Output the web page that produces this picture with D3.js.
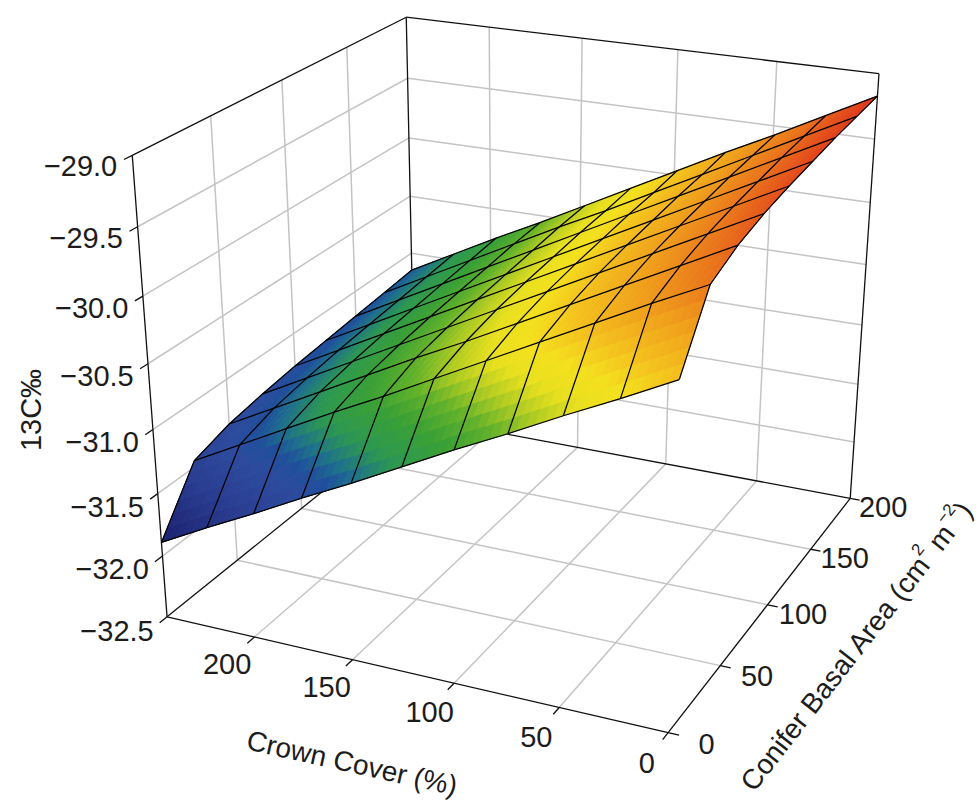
<!DOCTYPE html>
<html><head><meta charset="utf-8">
<script src="https://cdn.jsdelivr.net/npm/d3@7"></script>
<style>
body{margin:0;background:#fff}
text{font-family:"Liberation Sans",Arial,Helvetica,sans-serif;fill:#1c1c1c}
</style>
</head><body>
<svg id="chart" width="980" height="805"></svg>
<script>
// ---------------- DATA ----------------
const crownGrid = [0, 24.6, 49.2, 73.8, 98.4, 123, 147.6, 172.2, 196.8, 221.4, 246];
const basalGrid = [0, 25, 50, 75, 100, 125, 150, 175, 200];
// d13C[crown index][basal index]
const d13C = [
  [-29.93, -29.47, -29.37, -29.31, -29.27, -29.24, -29.21, -29.19, -29.17],
  [-30.13, -29.66, -29.57, -29.51, -29.47, -29.44, -29.41, -29.39, -29.37],
  [-30.32, -29.86, -29.77, -29.71, -29.67, -29.64, -29.61, -29.59, -29.57],
  [-30.52, -30.06, -29.97, -29.91, -29.87, -29.84, -29.81, -29.79, -29.76],
  [-30.71, -30.26, -30.17, -30.11, -30.07, -30.04, -30.01, -29.99, -29.96],
  [-30.91, -30.46, -30.37, -30.31, -30.27, -30.24, -30.21, -30.19, -30.16],
  [-31.11, -30.66, -30.56, -30.51, -30.47, -30.44, -30.41, -30.38, -30.36],
  [-31.30, -30.85, -30.76, -30.71, -30.67, -30.64, -30.61, -30.58, -30.56],
  [-31.50, -31.05, -30.96, -30.91, -30.87, -30.84, -30.81, -30.78, -30.75],
  [-31.69, -31.25, -31.16, -31.11, -31.07, -31.04, -31.01, -30.98, -30.95],
  [-31.89, -31.45, -31.36, -31.31, -31.27, -31.24, -31.21, -31.18, -31.15]
];
const crownTicks = [0, 50, 100, 150, 200];
const basalTicks = [0, 50, 100, 150, 200];
const zTicks = [-32.5, -32.0, -31.5, -31.0, -30.5, -30.0, -29.5, -29.0];
const crownDomain = [0, 246];
const basalDomain = [0, 200];
const zDomain = [-32.5, -29.0];

// colour map (value -> colour)
const colorValues = [-31.89, -31.55, -31.30, -31.18, -31.08, -30.92, -30.72, -30.55, -30.40, -30.25, -30.10, -29.93, -29.70, -29.45, -29.17];
const colorList = ["#1b1f6e", "#2a3d90", "#2d4b9e", "#1f4f9c", "#1e6f8e", "#2c9852", "#3aa035", "#62b22b", "#aecb23", "#e8e01f", "#f4e01e", "#f4c21e", "#f0a01c", "#ea741c", "#e0361c"];

// ---------------- SCALES ----------------
const uS = d3.scaleLinear().domain(crownDomain).range([0, 1]);
const vS = d3.scaleLinear().domain(basalDomain).range([0, 1]);
const wS = d3.scaleLinear().domain(zDomain).range([0, 1]);
const color = d3.scaleLinear().domain(colorValues).range(colorList).interpolate(d3.interpolateRgb).clamp(true);

// ---------------- CAMERA (perspective, fitted to the box layout) ----------------
// normalised box coordinates (u: crown, v: basal, w: z) -> screen anchor
const anchors = [
  [1,0,0,167,614],[0,0,0,665,732],[0,1,0,849,499],
  [1,0,1,132,155],[1,1,1,405,17],[0,1,1,878,75],
  [0,.25,0,720,667],[0,.5,0,770,606],[0,.75,0,812,551],
  [1,0,1/7,162,554],[1,0,2/7,157,493],[1,0,3/7,153,428],[1,0,4/7,147,365],[1,0,5/7,142,297],[1,0,6/7,137,227],
  [50/246,0,0,558,708],[100/246,0,0,455,685],[150/246,0,0,355,662],[200/246,0,0,258,636],
  [200/246,1,1,493,28],[150/246,1,1,586,39],[100/246,1,1,680,51],[50/246,1,1,777,63],
  [1,.25,1,210,116],[1,.5,1,282,80],[1,.75,1,347,47],
  [1,1,6/7,406,78],[1,1,5/7,408,137],[1,1,4/7,409,197],[1,1,3/7,410,255],
  [0,1,6/7,874,137],[0,1,5/7,869.5,200],[0,1,4/7,865,262],[0,1,3/7,861,322]
];
function fitCamera(pts){
  const K = 1000, n = 11;
  const A = Array.from({length:n}, () => new Array(n+1).fill(0));
  const add = (r, b) => { for (let i=0;i<n;i++){ for (let j=0;j<n;j++) A[i][j]+=r[i]*r[j]; A[i][n]+=r[i]*b; } };
  for (const [u,v,w,x0,y0] of pts){
    const x = x0/K, y = y0/K;
    add([u,v,w,1,0,0,0,0,-x*u,-x*v,-x*w], x);
    add([0,0,0,0,u,v,w,1,-y*u,-y*v,-y*w], y);
  }
  for (let c=0;c<n;c++){
    let p=c; for (let r=c+1;r<n;r++) if (Math.abs(A[r][c])>Math.abs(A[p][c])) p=r;
    [A[c],A[p]]=[A[p],A[c]];
    for (let r=0;r<n;r++){ if (r===c) continue; const f=A[r][c]/A[c][c]; for (let k=c;k<=n;k++) A[r][k]-=f*A[c][k]; }
  }
  const p = A.map((r,i)=>r[n]/r[i]);
  for (let i=0;i<8;i++) p[i]*=K;
  return p;
}
const P = fitCamera(anchors);
function proj(u,v,w){
  const h = P[8]*u + P[9]*v + P[10]*w + 1;
  return [(P[0]*u+P[1]*v+P[2]*w+P[3])/h, (P[4]*u+P[5]*v+P[6]*w+P[7])/h, h];
}
const project = (c,b,z) => proj(uS(c), vS(b), wS(z));

// ---------------- DRAW ----------------
const svg = d3.select("#chart");
const gGrid = svg.append("g").attr("stroke","#c4c4c4").attr("stroke-width",1.5).attr("fill","none");
const gBox = svg.append("g").attr("stroke","#111").attr("stroke-width",1.3).attr("fill","none");
const gSurf = svg.append("g");
const gMesh = svg.append("g").attr("stroke","#000").attr("stroke-width",1.25).attr("fill","none");
const gAxis = svg.append("g").attr("stroke","#111").attr("stroke-width",1.3).attr("fill","none");
const gText = svg.append("g");

const seg = (g, a, b) => g.append("line").attr("x1",a[0]).attr("y1",a[1]).attr("x2",b[0]).attr("y2",b[1]);

// wall & floor grid lines
const zInner = zTicks.slice(1, -1);
const crownInner = crownTicks.filter(c => c > 0);
const basalInner = basalTicks.filter(b => b > 0 && b < 200);
// floor
crownInner.forEach(c => seg(gGrid, proj(uS(c),0,0), proj(uS(c),1,0)));
basalInner.forEach(b => seg(gGrid, proj(0,vS(b),0), proj(1,vS(b),0)));
// left wall (crown max)
basalInner.forEach(b => seg(gGrid, proj(1,vS(b),0), proj(1,vS(b),1)));
zInner.forEach(z => seg(gGrid, proj(1,0,wS(z)), proj(1,1,wS(z))));
// back wall (basal max)
crownInner.forEach(c => seg(gGrid, proj(uS(c),1,0), proj(uS(c),1,1)));
zInner.forEach(z => seg(gGrid, proj(0,1,wS(z)), proj(1,1,wS(z))));

// box edges
[[[1,0,0],[1,1,0]],[[1,1,0],[0,1,0]],[[1,1,0],[1,1,1]],[[0,1,0],[0,1,1]],
 [[1,0,1],[1,1,1]],[[1,1,1],[0,1,1]]].forEach(([a,b]) => seg(gBox, proj(...a), proj(...b)));

// surface patches (smooth shading by subdivision)
const S = 6, patches = [];
for (let i=0;i<crownGrid.length-1;i++){
  for (let j=0;j<basalGrid.length-1;j++){
    const z00=d13C[i][j], z10=d13C[i+1][j], z01=d13C[i][j+1], z11=d13C[i+1][j+1];
    for (let a=0;a<S;a++) for (let b=0;b<S;b++){
      const pts = [[a,b],[a+1,b],[a+1,b+1],[a,b+1]].map(([p,q]) => {
        const s=p/S, t=q/S;
        const c = crownGrid[i] + (crownGrid[i+1]-crownGrid[i])*s;
        const bb = basalGrid[j] + (basalGrid[j+1]-basalGrid[j])*t;
        const z = z00*(1-s)*(1-t) + z10*s*(1-t) + z01*(1-s)*t + z11*s*t;
        return {xy: project(c,bb,z), z};
      });
      const zm = d3.mean(pts, d => d.z);
      const hm = d3.mean(pts, d => d.xy[2]);
      patches.push({pts: pts.map(d => [d.xy[0], d.xy[1]]), col: color(zm), depth: hm});
    }
  }
}
patches.sort((a,b) => b.depth - a.depth);
gSurf.selectAll("path").data(patches).join("path")
  .attr("d", d => "M" + d.pts.map(p => p[0].toFixed(2)+","+p[1].toFixed(2)).join("L") + "Z")
  .attr("fill", d => d.col).attr("stroke", d => d.col).attr("stroke-width", 1).attr("stroke-linejoin","round");

// surface mesh
const line = d3.line();
crownGrid.forEach((c,i) => gMesh.append("path").attr("d", line(basalGrid.map((b,j) => project(c,b,d13C[i][j]).slice(0,2)))));
basalGrid.forEach((b,j) => gMesh.append("path").attr("d", line(crownGrid.map((c,i) => project(c,b,d13C[i][j]).slice(0,2)))));

// axes lines (front)
seg(gAxis, proj(1,0,0), proj(0,0,0));
seg(gAxis, proj(0,0,0), proj(0,1,0));
seg(gAxis, proj(1,0,0), proj(1,0,1));
// ticks
crownTicks.forEach(c => seg(gAxis, proj(uS(c),0,0), proj(uS(c),-0.025,0)));
basalTicks.forEach(b => seg(gAxis, proj(0,vS(b),0), proj(-0.02,vS(b),0)));
zTicks.forEach(z => seg(gAxis, proj(1,0,wS(z)), proj(1,-0.025,wS(z))));

// tick labels
const fz = d3.format(".1f");
crownTicks.forEach(c => {
  const p = proj(uS(c), -0.095, 0);
  gText.append("text").attr("x",p[0]).attr("y",p[1]+3).attr("text-anchor","middle")
    .attr("dominant-baseline","central").attr("font-size",29).text(c);
});
basalTicks.forEach(b => {
  const p = proj(-0.07, vS(b), 0);
  gText.append("text").attr("x",p[0]).attr("y",p[1]+2).attr("text-anchor","middle")
    .attr("dominant-baseline","central").attr("font-size",29).text(b);
});
zTicks.forEach(z => {
  const p = proj(1, -0.045, wS(z));
  gText.append("text").attr("x",p[0]).attr("y",p[1]+3).attr("text-anchor","end")
    .attr("dominant-baseline","central").attr("font-size",29).text(fz(z));
});

// axis titles
gText.append("text").attr("transform","translate(352,763) rotate(12.5)")
  .attr("text-anchor","middle").attr("dominant-baseline","central").attr("font-size",28).text("Crown Cover (%)");
const bt = gText.append("text").attr("transform","translate(856,646) rotate(-52)")
  .attr("text-anchor","middle").attr("dominant-baseline","central").attr("font-size",28);
bt.append("tspan").text("Conifer Basal Area (cm");
bt.append("tspan").attr("font-size",17).attr("dy",-11).text("2");
bt.append("tspan").attr("dy",11).text(" m");
bt.append("tspan").attr("font-size",17).attr("dy",-11).text("−2");
bt.append("tspan").attr("dy",11).text(")");
gText.append("text").attr("transform","translate(31,410) rotate(-90)")
  .attr("text-anchor","middle").attr("dominant-baseline","central").attr("font-size",29).text("13C‰");
</script>
</body></html>
